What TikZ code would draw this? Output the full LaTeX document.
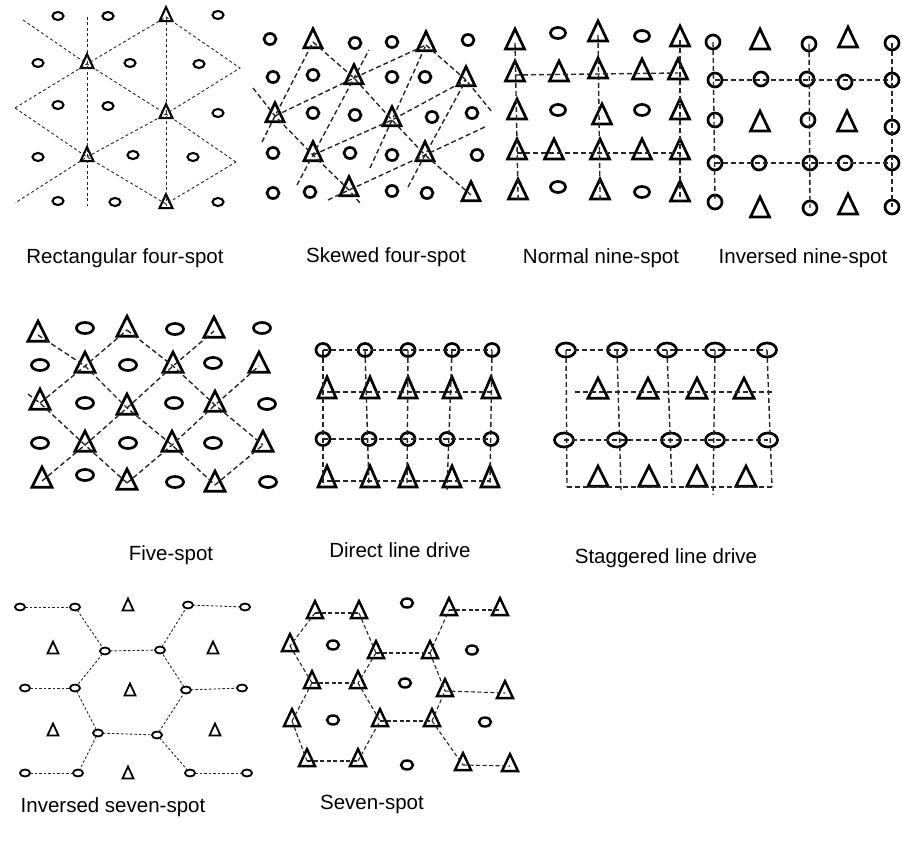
\documentclass[tikz,border=0pt]{standalone}
\usepackage{fontspec}
\setmainfont{Liberation Sans}
\usepackage{tikz}
\usetikzlibrary{shapes.geometric}

\begin{document}
\begin{tikzpicture}[x=1pt, y=-1pt,
  prod/.style={ellipse, draw, inner sep=0pt, outer sep=0pt, line width=2.7pt},
  inj/.style={isosceles triangle, isosceles triangle stretches, shape border rotate=90, draw, inner sep=0pt, outer sep=0pt, line width=2.7pt},
  pat/.style={dash pattern=on 5pt off 3pt, line width=1.4pt, black!85},
  caption/.style={font=\fontsize{20.5}{24}\selectfont, anchor=base}
]
\useasboundingbox (0,0) rectangle (902,842);

% Rectangular four-spot
\begin{scope}[prod/.append style={minimum width=11pt, minimum height=8pt, line width=2.1pt},
  inj/.append style={minimum width=13pt, minimum height=14pt, line width=2.1pt},
  pat/.append style={line width=0.9pt, dash pattern=on 3pt off 2.5pt}]
\node[prod] (rc1) at (58,16) {}; \node[prod] (rc2) at (108,16) {}; \node[prod] (rc3) at (218,15) {};
\node[prod] (rc4) at (38,63) {}; \node[prod] (rc5) at (130,63) {}; \node[prod] (rc6) at (199,64) {};
\node[prod] (rc7) at (58,105) {}; \node[prod] (rc8) at (108,106) {}; \node[prod] (rc9) at (218,113) {};
\node[prod] (rc10) at (38,157) {}; \node[prod] (rc11) at (133,155) {}; \node[prod] (rc12) at (193,157) {};
\node[prod] (rc13) at (58,201) {}; \node[prod] (rc14) at (115,202) {}; \node[prod] (rc15) at (218,202) {};
\node[inj] (rt1) at (166,17) {}; \node[inj] (rt2) at (87,64) {}; \node[inj] (rt3) at (166,114) {};
\node[inj] (rt4) at (87,157) {}; \node[inj] (rt5) at (166,204) {};
\coordinate (ra) at (87,17); \coordinate (rb) at (87,206);
\coordinate (re1) at (23,20); \coordinate (re2) at (236,162); \coordinate (re3) at (240,68);
\coordinate (re4) at (15,203); \coordinate (re5) at (15,108);
\draw[pat] (ra) -- (rb);
\draw[pat, shorten >=-2pt] (rt1.center) -- (rt5.center);
\draw[pat] (re1) -- (rt2.center) -- (rt3.center) -- (re2);
\draw[pat] (rt1.center) -- (re3) -- (rt3.center) -- (rt4.center) -- (re4);
\draw[pat] (re5) -- (rt2.center) -- (rt1.center);
\draw[pat] (re5) -- (rt4.center) -- (rt5.center) -- (re2);
\end{scope}

% Skewed four-spot
\begin{scope}[prod/.append style={minimum width=12pt, minimum height=11pt},
  inj/.append style={minimum width=18pt, minimum height=19pt}]
\node[prod] (sc1) at (270,39) {}; \node[prod] (sc2) at (355,43) {}; \node[prod] (sc3) at (392,42) {}; \node[prod] (sc4) at (468,40) {};
\node[prod] (sc5) at (273,77) {}; \node[prod] (sc6) at (313,75) {}; \node[prod] (sc7) at (392,77) {}; \node[prod] (sc8) at (425,77) {};
\node[prod] (sc9) at (313,113) {}; \node[prod] (sc10) at (355,115) {}; \node[prod] (sc11) at (432,117) {}; \node[prod] (sc12) at (472,113) {};
\node[prod] (sc13) at (273,153) {}; \node[prod] (sc14) at (350,153) {}; \node[prod] (sc15) at (392,155) {}; \node[prod] (sc16) at (477,155) {};
\node[prod] (sc17) at (273,193) {}; \node[prod] (sc18) at (310,192) {}; \node[prod] (sc19) at (392,191) {}; \node[prod] (sc20) at (427,193) {};
\node[inj] (st1) at (313,42) {}; \node[inj] (st2) at (426,45) {};
\node[inj] (st3) at (354,78) {}; \node[inj] (st4) at (466,80) {};
\node[inj] (st5) at (275,116) {}; \node[inj] (st6) at (392,120) {};
\node[inj] (st7) at (313,155) {}; \node[inj] (st8) at (425,155) {};
\node[inj] (st9) at (349,190) {}; \node[inj] (st10) at (471,195) {};
\coordinate (se1) at (253,88); \coordinate (se2) at (360,203); \coordinate (se4) at (492,112);
\coordinate (se5) at (328,200); \coordinate (se6) at (487,126); \coordinate (se7) at (262,142);
\coordinate (se8) at (297,185); \coordinate (se9) at (369,50); \coordinate (se10) at (370,168);
\coordinate (se11) at (408,187);
\draw[pat] (se1) -- (st5.center) -- (st7.center) -- (st9.center) -- (se2);
\draw[pat] (st1.center) -- (st3.center) -- (st6.center) -- (st8.center) -- (st10.center);
\draw[pat] (st2.center) -- (st4.center) -- (se4);
\draw[pat] (st5.center) -- (st3.center) -- (st2.center);
\draw[pat] (st7.center) -- (st6.center) -- (st4.center);
\draw[pat] (se5) -- (st9.center) -- (st8.center) -- (se6);
\draw[pat] (se7) -- (st5.center) -- (st1.center);
\draw[pat] (se8) -- (st7.center) -- (st3.center) -- (se9);
\draw[pat] (se10) -- (st6.center) -- (st2.center);
\draw[pat] (se11) -- (st8.center) -- (st4.center);
\end{scope}

% Normal nine-spot
\begin{scope}[prod/.append style={minimum width=15pt, minimum height=11pt},
  inj/.append style={minimum width=19pt, minimum height=20pt}]
\node[inj] (nt1) at (515,43) {}; \node[prod] (nc1) at (558,33) {}; \node[inj] (nt2) at (598,35) {}; \node[prod] (nc2) at (642,36) {}; \node[inj] (nt3) at (680,40) {};
\node[inj] (nt4) at (515,75) {}; \node[inj] (nt5) at (559,75) {}; \node[inj] (nt6) at (598,72) {}; \node[inj] (nt7) at (642,73) {}; \node[inj] (nt8) at (678,73) {};
\node[inj] (nt9) at (517,113) {}; \node[prod] (nc3) at (558,110) {}; \node[inj] (nt10) at (602,118) {}; \node[prod] (nc4) at (642,110) {}; \node[inj] (nt11) at (680,113) {};
\node[inj] (nt12) at (517,153) {}; \node[inj] (nt13) at (554,153) {}; \node[inj] (nt14) at (600,153) {}; \node[inj] (nt15) at (642,153) {}; \node[inj] (nt16) at (680,153) {};
\node[inj] (nt17) at (518,193) {}; \node[prod] (nc5) at (558,187) {}; \node[inj] (nt18) at (600,193) {}; \node[prod] (nc6) at (642,192) {}; \node[inj] (nt19) at (680,195) {};
\draw[pat] (nt4.center) -- (nt8.center);
\draw[pat] (nt12.center) -- (nt16.center);
\draw[pat, shorten >=-8pt] (nt1.center) -- (nt17.center);
\draw[pat, shorten >=-8pt] (nt2.center) -- (nt18.center);
\draw[pat, shorten >=-6pt] (nt3.center) -- (nt19.center);
\end{scope}

% Inversed nine-spot
\begin{scope}[prod/.append style={minimum width=14pt, minimum height=14pt},
  inj/.append style={minimum width=19pt, minimum height=20pt}]
\node[prod] (vc1) at (713,42) {}; \node[inj] (vt1) at (760,43) {}; \node[prod] (vc2) at (809,44) {}; \node[inj] (vt2) at (848,41) {}; \node[prod] (vc3) at (892,43) {};
\node[prod] (vc4) at (715,80) {}; \node[prod] (vc5) at (761,79) {}; \node[prod] (vc6) at (807,79) {}; \node[prod] (vc7) at (845,82) {}; \node[prod] (vc8) at (892,80) {};
\node[prod] (vc9) at (715,120) {}; \node[inj] (vt3) at (760,125) {}; \node[prod] (vc10) at (808,120) {}; \node[inj] (vt4) at (847,125) {}; \node[prod] (vc11) at (892,127) {};
\node[prod] (vc12) at (715,163) {}; \node[prod] (vc13) at (759,163) {}; \node[prod] (vc14) at (810,163) {}; \node[prod] (vc15) at (845,163) {}; \node[prod] (vc16) at (892,163) {};
\node[prod] (vc17) at (715,202) {}; \node[inj] (vt5) at (760,211) {}; \node[prod] (vc18) at (810,208) {}; \node[inj] (vt6) at (848,208) {}; \node[prod] (vc19) at (892,207) {};
\draw[pat] (vc4.center) -- (vc8.center);
\draw[pat] (vc12.center) -- (vc16.center);
\draw[pat] (vc1.center) -- (vc17.center);
\draw[pat] (vc2.center) -- (vc18.center);
\draw[pat] (vc3.center) -- (vc19.center);
\end{scope}

% Five-spot
\begin{scope}[prod/.append style={minimum width=17pt, minimum height=11pt},
  inj/.append style={minimum width=20pt, minimum height=20pt}]
\node[inj] (ft1) at (38,335) {}; \node[prod] (fc1) at (85,328) {}; \node[inj] (ft2) at (127,330) {}; \node[prod] (fc2) at (175,329) {}; \node[inj] (ft3) at (214,331) {}; \node[prod] (fc3) at (262,328) {};
\node[prod] (fc4) at (40,365) {}; \node[inj] (ft4) at (85,366) {}; \node[prod] (fc5) at (128,365) {}; \node[inj] (ft5) at (173,366) {}; \node[prod] (fc6) at (213,363) {}; \node[inj] (ft6) at (259,366) {};
\node[inj] (ft7) at (40,403) {}; \node[prod] (fc7) at (85,403) {}; \node[inj] (ft8) at (127,408) {}; \node[prod] (fc8) at (174,403) {}; \node[inj] (ft9) at (215,405) {}; \node[prod] (fc9) at (267,404) {};
\node[prod] (fc10) at (40,443) {}; \node[inj] (ft10) at (85,445) {}; \node[prod] (fc11) at (128,443) {}; \node[inj] (ft11) at (172,445) {}; \node[prod] (fc12) at (213,443) {}; \node[inj] (ft12) at (263,445) {};
\node[inj] (ft13) at (42,481) {}; \node[prod] (fc13) at (85,475) {}; \node[inj] (ft14) at (127,483) {}; \node[prod] (fc14) at (175,482) {}; \node[inj] (ft15) at (215,485) {}; \node[prod] (fc15) at (268,482) {};
\coordinate (fe1) at (28,394);
\draw[pat] (ft1.center) -- (ft4.center) -- (ft8.center) -- (ft11.center) -- (ft15.center);
\draw[pat] (ft2.center) -- (ft5.center) -- (ft9.center) -- (ft12.center);
\draw[pat] (fe1) -- (ft7.center) -- (ft10.center) -- (ft14.center);
\draw[pat] (ft7.center) -- (ft4.center) -- (ft2.center);
\draw[pat] (ft13.center) -- (ft10.center) -- (ft8.center) -- (ft5.center) -- (ft3.center);
\draw[pat] (ft14.center) -- (ft11.center) -- (ft9.center) -- (ft6.center);
\draw[pat] (ft15.center) -- (ft12.center);
\end{scope}

% Direct line drive
\begin{scope}[prod/.append style={minimum width=14pt, minimum height=13pt},
  inj/.append style={minimum width=18pt, minimum height=21pt}]
\node[prod] (dc1) at (323,350) {}; \node[prod] (dc2) at (365,350) {}; \node[prod] (dc3) at (408,350) {}; \node[prod] (dc4) at (452,350) {}; \node[prod] (dc5) at (492,350) {};
\node[inj] (dt1) at (327,392) {}; \node[inj] (dt2) at (370,392) {}; \node[inj] (dt3) at (408,392) {}; \node[inj] (dt4) at (452,392) {}; \node[inj] (dt5) at (491,392) {};
\node[prod] (dc6) at (323,439) {}; \node[prod] (dc7) at (369,439) {}; \node[prod] (dc8) at (408,439) {}; \node[prod] (dc9) at (447,439) {}; \node[prod] (dc10) at (491,439) {};
\node[inj] (dt6) at (327,481) {}; \node[inj] (dt7) at (370,481) {}; \node[inj] (dt8) at (408,481) {}; \node[inj] (dt9) at (452,481) {}; \node[inj] (dt10) at (490,481) {};
\coordinate (db1) at (323,486); \coordinate (db2) at (369,488); \coordinate (db3) at (407,484);
\coordinate (db4) at (447,490); \coordinate (db5) at (490,484);
\draw[pat] (dc1.center) -- (dc5.center);
\draw[pat] (dt1.center) -- (dt5.center);
\draw[pat] (dc6.center) -- (dc10.center);
\draw[pat] (dt6.center) -- (dt10.center);
\draw[pat] (dc1.center) -- (db1);
\draw[pat] (dc2.center) -- (db2);
\draw[pat] (dc3.center) -- (db3);
\draw[pat] (dc4.center) -- (db4);
\draw[pat] (dc5.center) -- (db5);
\end{scope}

% Staggered line drive
\begin{scope}[prod/.append style={minimum width=19pt, minimum height=14pt},
  inj/.append style={minimum width=20pt, minimum height=20pt}]
\node[prod] (gc1) at (566,350) {}; \node[prod] (gc2) at (617,350) {}; \node[prod] (gc3) at (667,350) {}; \node[prod] (gc4) at (715,350) {}; \node[prod] (gc5) at (767,350) {};
\node[inj] (gt1) at (598,392) {}; \node[inj] (gt2) at (648,392) {}; \node[inj] (gt3) at (697,392) {}; \node[inj] (gt4) at (744,392) {};
\node[prod] (gc6) at (564,440) {}; \node[prod] (gc7) at (617,440) {}; \node[prod] (gc8) at (671,440) {}; \node[prod] (gc9) at (715,440) {}; \node[prod] (gc10) at (768,440) {};
\node[inj] (gt5) at (598,480) {}; \node[inj] (gt6) at (649,480) {}; \node[inj] (gt7) at (697,480) {}; \node[inj] (gt8) at (746,480) {};
\coordinate (gb1) at (567,487); \coordinate (gb2) at (621,490); \coordinate (gb3) at (672,487);
\coordinate (gb4) at (713,495); \coordinate (gb5) at (772,487);
\coordinate (ge1) at (575,392); \coordinate (ge2) at (772,392);
\draw[pat] (gc1.center) -- (gc5.center);
\draw[pat] (ge1) -- (gt1.center) -- (gt2.center) -- (gt3.center) -- (gt4.center) -- (ge2);
\draw[pat] (gc6.center) -- (gc10.center);
\draw[pat] (gb1) -- (gb5);
\draw[pat] (gc1.center) -- (gb1);
\draw[pat] (gc2.center) -- (gb2);
\draw[pat] (gc3.center) -- (gb3);
\draw[pat] (gc4.center) -- (gb4);
\draw[pat] (gc5.center) -- (gb5);
\end{scope}

% Inversed seven-spot
\begin{scope}[prod/.append style={minimum width=10pt, minimum height=7pt, line width=1.8pt},
  inj/.append style={minimum width=11pt, minimum height=12pt, line width=1.8pt},
  pat/.append style={line width=0.9pt, dash pattern=on 2.5pt off 2pt}]
\node[prod] (ic1) at (20,607) {}; \node[prod] (ic2) at (75,607) {}; \node[inj] (it1) at (128,607) {}; \node[prod] (ic3) at (188,605) {}; \node[prod] (ic4) at (245,607) {};
\node[inj] (it2) at (53,650) {}; \node[prod] (ic5) at (105,651) {}; \node[prod] (ic6) at (160,650) {}; \node[inj] (it3) at (213,650) {};
\node[prod] (ic7) at (25,688) {}; \node[prod] (ic8) at (75,688) {}; \node[inj] (it4) at (130,692) {}; \node[prod] (ic9) at (186,690) {}; \node[prod] (ic10) at (242,688) {};
\node[inj] (it5) at (53,732) {}; \node[prod] (ic11) at (98,733) {}; \node[prod] (ic12) at (157,735) {}; \node[inj] (it6) at (215,732) {};
\node[prod] (ic13) at (25,773) {}; \node[prod] (ic14) at (78,773) {}; \node[inj] (it7) at (128,775) {}; \node[prod] (ic15) at (190,773) {}; \node[prod] (ic16) at (247,773) {};
\draw[pat] (ic1) -- (ic2);
\draw[pat] (ic2) -- (ic5);
\draw[pat] (ic5) -- (ic6);
\draw[pat] (ic6) -- (ic3);
\draw[pat] (ic3) -- (ic4);
\draw[pat] (ic5) -- (ic8);
\draw[pat] (ic7) -- (ic8);
\draw[pat] (ic8) -- (ic11);
\draw[pat] (ic11) -- (ic12);
\draw[pat] (ic12) -- (ic9);
\draw[pat] (ic9) -- (ic6);
\draw[pat] (ic9) -- (ic10);
\draw[pat] (ic11) -- (ic14);
\draw[pat] (ic13) -- (ic14);
\draw[pat] (ic12) -- (ic15);
\draw[pat] (ic15) -- (ic16);
\end{scope}

% Seven-spot
\begin{scope}[prod/.append style={minimum width=12pt, minimum height=9pt, line width=2.4pt},
  inj/.append style={minimum width=16pt, minimum height=17pt, line width=2.4pt},
  pat/.append style={line width=1.1pt, dash pattern=on 4pt off 2.5pt}]
\node[inj] (wt1) at (315,613) {}; \node[inj] (wt2) at (359,613) {}; \node[prod] (wc1) at (407,603) {}; \node[inj] (wt3) at (449,610) {}; \node[inj] (wt4) at (500,610) {};
\node[inj] (wt5) at (290,646) {}; \node[prod] (wc2) at (333,645) {}; \node[inj] (wt6) at (376,653) {}; \node[inj] (wt7) at (430,653) {}; \node[prod] (wc3) at (472,650) {};
\node[inj] (wt8) at (312,683) {}; \node[inj] (wt9) at (358,683) {}; \node[prod] (wc4) at (405,683) {}; \node[inj] (wt10) at (445,691) {}; \node[inj] (wt11) at (505,693) {};
\node[inj] (wt12) at (292,721) {}; \node[prod] (wc5) at (333,720) {}; \node[inj] (wt13) at (380,721) {}; \node[inj] (wt14) at (432,721) {}; \node[prod] (wc6) at (485,722) {};
\node[inj] (wt15) at (307,761) {}; \node[inj] (wt16) at (358,761) {}; \node[prod] (wc7) at (407,765) {}; \node[inj] (wt17) at (463,765) {}; \node[inj] (wt18) at (510,766) {};
\draw[pat] (wt1.center) -- (wt2.center);
\draw[pat] (wt1.center) -- (wt5.center);
\draw[pat] (wt2.center) -- (wt6.center);
\draw[pat] (wt5.center) -- (wt8.center);
\draw[pat] (wt6.center) -- (wt9.center);
\draw[pat] (wt8.center) -- (wt9.center);
\draw[pat] (wt6.center) -- (wt7.center);
\draw[pat] (wt7.center) -- (wt3.center);
\draw[pat] (wt3.center) -- (wt4.center);
\draw[pat] (wt7.center) -- (wt10.center);
\draw[pat] (wt10.center) -- (wt11.center);
\draw[pat] (wt9.center) -- (wt13.center);
\draw[pat] (wt8.center) -- (wt12.center);
\draw[pat] (wt12.center) -- (wt15.center);
\draw[pat] (wt15.center) -- (wt16.center);
\draw[pat] (wt16.center) -- (wt13.center);
\draw[pat] (wt13.center) -- (wt14.center);
\draw[pat] (wt14.center) -- (wt10.center);
\draw[pat] (wt14.center) -- (wt17.center);
\draw[pat] (wt17.center) -- (wt18.center);
\end{scope}

% captions
\node[caption] (cap1) at (125,264) {Rectangular four-spot};
\node[caption] (cap2) at (386,263) {Skewed four-spot};
\node[caption] (cap3) at (601,264) {Normal nine-spot};
\node[caption] (cap4) at (803,264) {Inversed nine-spot};
\node[caption] (cap5) at (171,560) {Five-spot};
\node[caption] (cap6) at (400,557) {Direct line drive};
\node[caption] (cap7) at (666,563) {Staggered line drive};
\node[caption] (cap8) at (113,812) {Inversed seven-spot};
\node[caption] (cap9) at (372,809) {Seven-spot};
\end{tikzpicture}
\end{document}
